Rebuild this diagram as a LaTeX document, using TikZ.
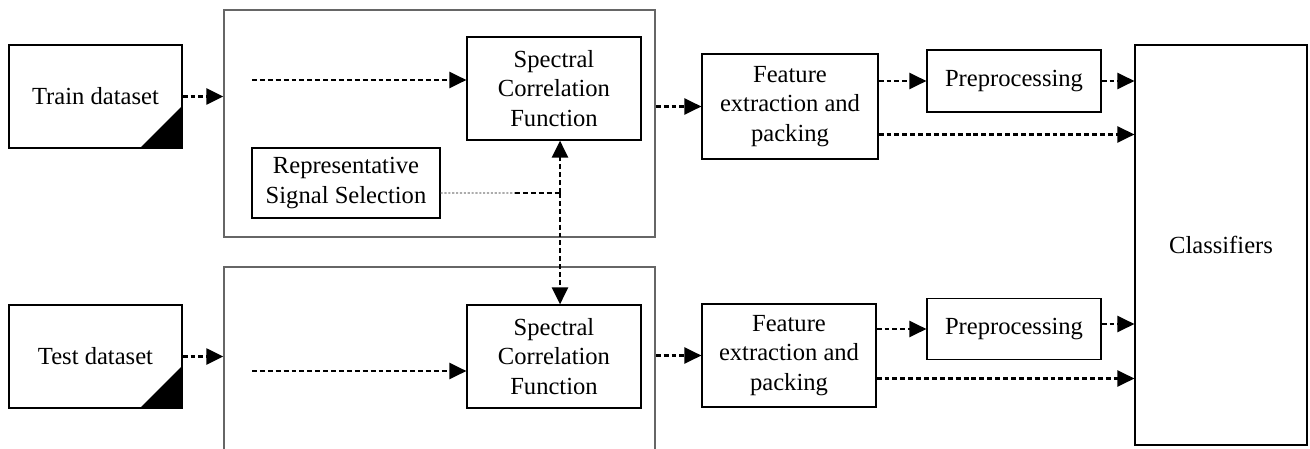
\documentclass[tikz,border=0pt]{standalone}
\usepackage{fontspec}
\setmainfont{Liberation Serif}
\usepackage{tikz}
\usetikzlibrary{arrows.meta}

\tikzset{
    block/.style={draw, line width=0.7pt, align=center, inner sep=0pt},
    frame/.style={draw=black!60, line width=0.9pt, inner sep=0pt},
    flow/.style={line width=1.5pt, dash pattern=on 2.8pt off 1.7pt, -{Triangle[length=0.34cm, width=0.32cm]}},
}

\begin{document}
\begin{tikzpicture}[x=0.02cm, y=-0.02cm, font=\fontsize{14}{17}\selectfont]
    \useasboundingbox (0,0) rectangle (1310,449);
    \clip (0,0) rectangle (1310,449);

    % containers
    \node [frame, minimum width=8.62cm, minimum height=4.54cm] (train_box) at (439.5, 123.5) {};
    \node [frame, minimum width=8.62cm, minimum height=4.06cm] (test_box) at (439.5, 368.5) {};

    % datasets
    \node [block, minimum width=3.46cm, minimum height=2.06cm] (train) at (95.5, 96.5) {Train dataset};
    \node [block, minimum width=3.46cm, minimum height=2.06cm] (test) at (95.5, 356.5) {Test dataset};
    \fill ([xshift=-0.86cm]train.south east) -- (train.south east) -- ([yshift=0.86cm]train.south east) -- cycle;
    \fill ([xshift=-0.86cm]test.south east) -- (test.south east) -- ([yshift=0.86cm]test.south east) -- cycle;

    \node [block, minimum width=3.48cm, minimum height=2.06cm] (scf_train) at (554, 88.5) {Spectral\\Correlation\\Function};
    \node [block, minimum width=3.48cm, minimum height=2.06cm] (scf_test) at (554, 356.5) {Spectral\\Correlation\\Function};
    \node [block, minimum width=3.76cm, minimum height=1.4cm] (rss) at (346, 183) {Representative\\Signal Selection};

    \node [block, minimum width=3.52cm, minimum height=2.1cm] (fe_train) at (790, 106.5) {Feature\\extraction and\\packing};
    \node [block, minimum width=3.48cm, minimum height=2.06cm] (fe_test) at (789, 355.5) {Feature\\extraction and\\packing};
    \node [block, minimum width=3.48cm, minimum height=1.24cm] (pre_train) at (1014, 81) {Preprocessing};
    \node [block, minimum width=3.48cm, minimum height=1.22cm] (pre_test) at (1014, 329) {Preprocessing};

    \node [block, minimum width=3.44cm, minimum height=8.0cm] (cls) at (1221, 245) {Classifiers};

    \coordinate (in_train) at (252, 80);
    \coordinate (in_test) at (252, 371);
    \coordinate (rss_mid) at (515, 193);
    \coordinate (rss_join) at (560, 193);

    \draw [flow] (train.east) -- (train.east -| train_box.west);
    \draw [flow] (test.east) -- (test.east -| test_box.west);
    \draw [flow] (in_train) -- (in_train -| scf_train.west);
    \draw [flow] (in_test) -- (in_test -| scf_test.west);

    \draw [gray, line width=0.7pt, dash pattern=on 1.2pt off 1pt] ([yshift=-0.2cm]rss.east) -- (rss_mid);
    \draw [line width=1.5pt, dash pattern=on 2.8pt off 1.7pt] (rss_mid) -- (rss_join);
    \draw [flow] (rss_join) -- (rss_join |- scf_train.south);
    \draw [flow] (rss_join) -- (rss_join |- scf_test.north);

    \draw [flow] (fe_train.west -| train_box.east) -- (fe_train.west);
    \draw [flow] (fe_test.west -| test_box.east) -- (fe_test.west);
    \draw [flow] (fe_train.east |- pre_train.west) -- (pre_train.west);
    \draw [flow] (fe_test.east |- pre_test.west) -- (pre_test.west);
    \draw [flow] (pre_train.east) -- (pre_train.east -| cls.west);
    \draw [flow] ([yshift=0.1cm]pre_test.east) -- ([yshift=0.1cm]pre_test.east -| cls.west);
    \draw [flow] ([yshift=-0.56cm]fe_train.east) -- ([yshift=-0.56cm]fe_train.east -| cls.west);
    \draw [flow] ([yshift=-0.46cm]fe_test.east) -- ([yshift=-0.46cm]fe_test.east -| cls.west);

\end{tikzpicture}
\end{document}
